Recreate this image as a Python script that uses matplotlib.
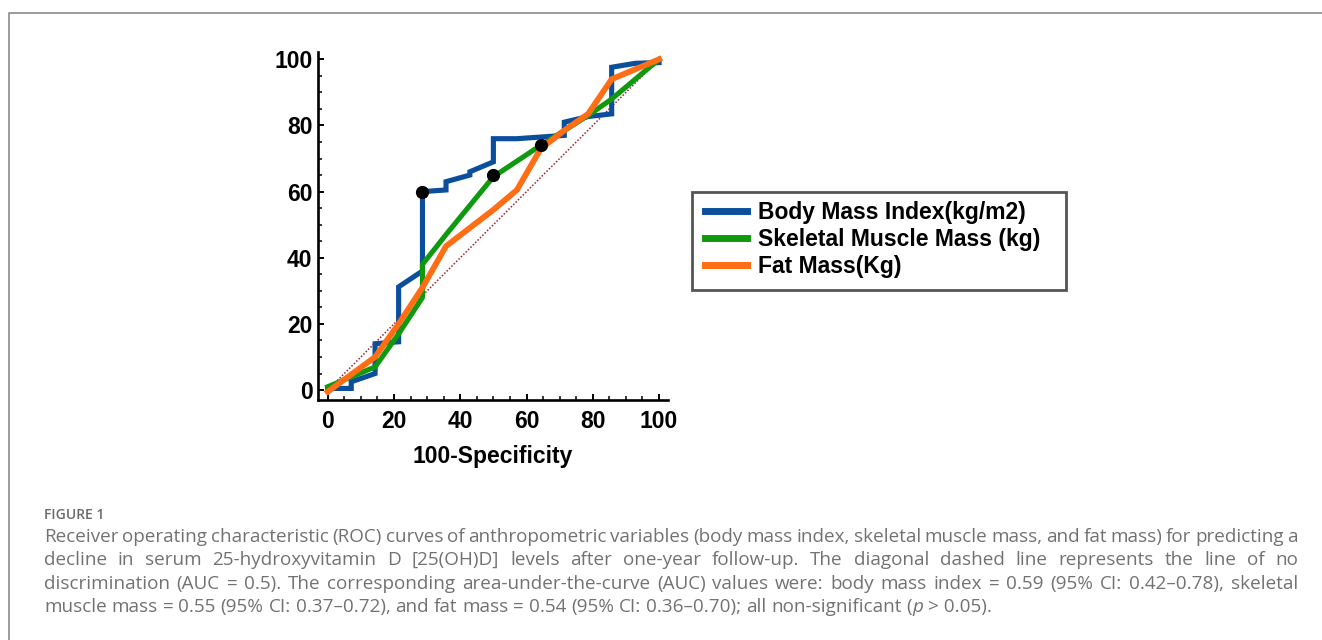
import numpy as np
import matplotlib.pyplot as plt
from matplotlib.lines import Line2D
from matplotlib.patches import Rectangle
from matplotlib.ticker import MultipleLocator

# ROC curves (100-Specificity vs Sensitivity)
bmi_x = [0, 7.1, 7.1, 14.3, 14.3, 21.4, 21.4, 28.6, 28.6, 35.7, 35.7, 42.9, 42.9,
         50, 50, 57.1, 71.4, 71.4, 78.6, 85.7, 85.7, 92.9, 100]
bmi_y = [0.5, 0.5, 2.5, 5, 14, 14.6, 31.2, 36, 60, 60.5, 63, 65, 66,
         69, 76, 76, 77, 81, 82.7, 83.5, 97.6, 98.8, 99]
smm_x = [0, 14.3, 21.4, 28.6, 28.6, 35.7, 50, 64.3, 78.6, 85.7, 100]
smm_y = [1, 7, 17, 28, 38, 47, 64.5, 74, 83, 88, 100]
fm_x = [0, 14.3, 21.4, 28.6, 35.7, 50, 57.1, 64.3, 71.4, 78.6, 85.7, 100]
fm_y = [-0.5, 10, 20, 31, 43.5, 54.5, 60.5, 73, 78.5, 83.5, 94, 100]
cut_x = [28.6, 50, 64.3]
cut_y = [60, 65, 74]

series_names = ["Body Mass Index(kg/m2)", "Skeletal Muscle Mass (kg)", "Fat Mass(Kg)"]
series_colors = ["#0b4f9c", "#0f990f", "#ff6d14"]
ticks = [0, 20, 40, 60, 80, 100]

caption_head = "FIGURE 1"
caption_lines = [
    "Receiver operating characteristic (ROC) curves of anthropometric variables (body mass index, skeletal muscle mass, and fat mass) for predicting a",
    "decline in serum 25-hydroxyvitamin D [25(OH)D] levels after one-year follow-up. The diagonal dashed line represents the line of no",
    "discrimination (AUC = 0.5). The corresponding area-under-the-curve (AUC) values were: body mass index = 0.59 (95% CI: 0.42\u20130.78), skeletal",
]
last_a = "muscle mass = 0.55 (95% CI: 0.37\u20130.72), and fat mass = 0.54 (95% CI: 0.36\u20130.70); all non-significant ("
last_p = "p"
last_b = "> 0.05)."

W, H = 1322, 640
plt.rcParams['font.family'] = ['Liberation Sans', 'DejaVu Sans']
plt.rcParams['font.weight'] = 'bold'

fig = plt.figure(figsize=(W / 100, H / 100), dpi=100)
fig.patch.set_facecolor('white')

# outer frame (top and left rules)
fig.add_artist(Line2D([9 / W, 9 / W, 1], [0, 1 - 13 / H, 1 - 13 / H],
                      transform=fig.transFigure, color='#8a8a8a', lw=1.2))

ax = fig.add_axes([318 / W, 1 - 400 / H, 350 / W, 348.3 / H])
ax.plot([0, 100], [0, 100], ls=(0, (1, 1.2)), color='#9b2335', lw=1.1, zorder=1)
ax.plot(bmi_x, bmi_y, color=series_colors[0], lw=3.7, zorder=2, solid_joinstyle='miter')
ax.plot(smm_x, smm_y, color=series_colors[1], lw=3.7, zorder=3)
ax.plot(fm_x, fm_y, color=series_colors[2], lw=4.2, zorder=4)
ax.plot(cut_x, cut_y, 'o', color='black', ms=8.5, zorder=5)

ax.set_xlim(-2.93, 102.7)
ax.set_ylim(-3.0, 102.3)
ax.set_xticks(ticks)
ax.set_yticks(ticks)
ax.xaxis.set_minor_locator(MultipleLocator(5))
ax.yaxis.set_minor_locator(MultipleLocator(5))
for s in ['top', 'right']:
    ax.spines[s].set_visible(False)
for s in ['left', 'bottom']:
    ax.spines[s].set_linewidth(1.9)
ax.tick_params(which='major', direction='in', length=4.5, width=1.4, labelsize=16.5)
ax.tick_params(which='minor', direction='in', length=2.8, width=1.1)
ax.tick_params(axis='x', which='major', pad=7)
ax.tick_params(axis='y', which='major', pad=4)
ax.set_xlabel("100-Specificity", fontsize=16.5, fontweight='bold')
ax.xaxis.set_label_coords(0.5, (400 - 445) / 348.3)

# legend box drawn as a plain rectangle, entries as a frameless legend
fig.add_artist(Rectangle((692 / W, 1 - 290 / H), 374 / W, 98 / H, transform=fig.transFigure,
                         facecolor='white', edgecolor='#555555', lw=2, zorder=3))
handles = [Line2D([], [], color=c, lw=5) for c in series_colors]
leg = fig.legend(handles, series_names, loc='upper left',
                 bbox_to_anchor=(692 / W, 1 - 188 / H), bbox_transform=fig.transFigure,
                 frameon=False, borderaxespad=0,
                 prop=dict(family='Liberation Sans', weight='bold', size=16.5),
                 handlelength=1.83, handletextpad=0.52, labelspacing=0.18, borderpad=0.55)
leg.set_zorder(4)

# caption, justified between left and right margins
renderer = fig.canvas.get_renderer()
cap_color = '#727272'
left_px, right_px = 44, 1298


def width_of(s, **kw):
    t = fig.text(0, 0, s, **kw)
    w = t.get_window_extent(renderer).width
    t.remove()
    return w


base = dict(family=['Open Sans', 'DejaVu Sans'], weight='normal', color=cap_color)
nat = width_of(last_a + last_p + " " + last_b, fontsize=10, **base)
cap_size = 10 * 950 / nat
kw = dict(fontsize=cap_size, **base)
space_w = width_of("a a", **kw) - width_of("aa", **kw)

fig.text(left_px / W, 1 - 519 / H, caption_head, fontsize=10, family=['Open Sans', 'DejaVu Sans'],
         weight='semibold', color='#6a6a6a', va='baseline')

baselines = [542, 565, 589, 612]
for line, yb in zip(caption_lines, baselines):
    words = line.split(' ')
    ws = [width_of(w, **kw) for w in words]
    gap = (right_px - left_px - sum(ws)) / (len(words) - 1)
    x = left_px
    for w, wd in zip(words, ws):
        fig.text(x / W, 1 - yb / H, w, va='baseline', **kw)
        x += wd + gap

yb = baselines[3]
x = left_px
for w in last_a.split(' '):
    fig.text(x / W, 1 - yb / H, w, va='baseline', **kw)
    x += width_of(w, **kw) + space_w
x -= space_w
fig.text(x / W, 1 - yb / H, last_p, va='baseline', style='italic', **kw)
x += width_of(last_p, style='italic', **kw) + space_w
fig.text(x / W, 1 - yb / H, last_b, va='baseline', **kw)

fig.savefig('out.png', dpi=100)
